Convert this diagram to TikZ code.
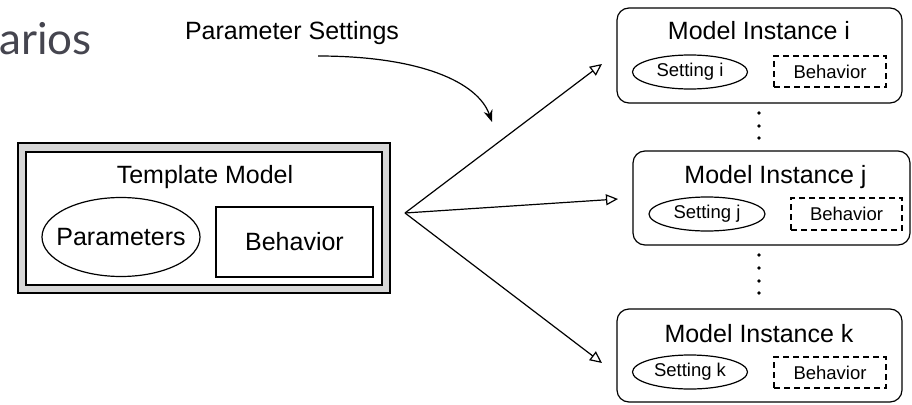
\documentclass[tikz,border=0pt]{standalone}
\usepackage{fontspec}
\setmainfont{Liberation Sans}
\newfontfamily\titlefont{Lato}
\usetikzlibrary{shapes.geometric,arrows.meta}
\definecolor{slate}{HTML}{45454F}
\definecolor{framegray}{HTML}{D6D6D6}
\tikzset{
  big/.style={font=\fontsize{25}{30}\selectfont},
  small/.style={font=\fontsize{18.5}{22}\selectfont},
  plainbox/.style={draw, line width=1.2pt, inner sep=0pt},
  instbox/.style={draw, line width=1.2pt, rounded corners=12pt, inner sep=0pt},
  oval/.style={draw, ellipse, line width=1.2pt, inner sep=0pt},
  dashbox/.style={draw, line width=1.2pt, dash pattern=on 6pt off 4pt, inner sep=0pt, small},
  fan/.style={line width=1.2pt, -{Triangle[open, length=12pt, width=11pt]}},
  vdot/.style={circle, fill=black, inner sep=0pt, minimum size=3.6pt},
}
\begin{document}
\begin{tikzpicture}[x=1pt, y=-1pt]
\useasboundingbox (0,0) rectangle (912,404);

% heading fragment
\node[anchor=base west, inner sep=0pt, text=slate, font=\titlefont\fontsize{44}{50}\selectfont] (heading) at (-1,55) {arios};

% template model
\node[plainbox, fill=framegray, minimum width=372pt, minimum height=150pt] (outer) at (204,218) {};
\node[plainbox, fill=white, minimum width=356pt, minimum height=133pt] (inner) at (204,218.5) {};
\node[big, anchor=base, inner sep=0pt] (ttitle) at (205,183) {Template Model};
\node[oval, minimum width=158pt, minimum height=79pt] (params) at (121,237) {};
\node[big, inner sep=0pt] (paramst) at (params.center) {Parameters};
\node[plainbox, big, minimum width=157pt, minimum height=70pt] (tbeh) at (294.5,242) {Behavior};

% parameter settings label and curved arrow
\node[big, anchor=base, inner sep=0pt] (psl) at (292,40) {Parameter Settings};
\coordinate (cs) at (318,56);
\coordinate (ce) at (492,122);
\draw[line width=1.2pt, -{Stealth[length=12pt, width=9pt]}] (cs) .. controls (420,56) and (478,82) .. (ce);

% model instances
\node[instbox, minimum width=285pt, minimum height=95pt] (mi) at (759.5,55.5) {};
\node[big, anchor=base, inner sep=0pt] (mit) at (759,40) {Model Instance i};
\node[oval, minimum width=115pt, minimum height=34pt] (si) at (690,72) {};
\node[small, inner sep=0pt] (sit) at (si.center) {Setting i};
\node[dashbox, minimum width=112pt, minimum height=31pt] (bi) at (830,71.5) {Behavior};

\node[instbox, minimum width=277pt, minimum height=94pt] (mj) at (771.5,198) {};
\node[big, anchor=base, inner sep=0pt] (mjt) at (775.5,183) {Model Instance j};
\node[oval, minimum width=116pt, minimum height=34pt] (sj) at (707,214) {};
\node[small, inner sep=0pt] (sjt) at (sj.center) {Setting j};
\node[dashbox, minimum width=111pt, minimum height=32pt] (bj) at (846.5,214) {Behavior};

\node[instbox, minimum width=285pt, minimum height=93pt] (mk) at (759.5,355.5) {};
\node[big, anchor=base, inner sep=0pt] (mkt) at (759,342) {Model Instance k};
\node[oval, minimum width=115pt, minimum height=34pt] (sk) at (690,372) {};
\node[small, inner sep=0pt] (skt) at (sk.center) {Setting k};
\node[dashbox, minimum width=112pt, minimum height=31pt] (bk) at (830,372.5) {Behavior};

% vertical ellipses between instances
\foreach \yy [count=\n] in {113,126,138}
  \node[vdot] (du\n) at (759,\yy) {};
\foreach \yy [count=\n] in {255,268,281,293}
  \node[vdot] (dl\n) at (759,\yy) {};

% fan of arrows from the template to the instances
\coordinate (fan) at (405,213);
\coordinate (ti) at (602,64);
\coordinate (tj) at (618,199);
\coordinate (tk) at (602,363);
\draw[fan] (fan) -- (ti);
\draw[fan] (fan) -- (tj);
\draw[fan] (fan) -- (tk);
\end{tikzpicture}
\end{document}
